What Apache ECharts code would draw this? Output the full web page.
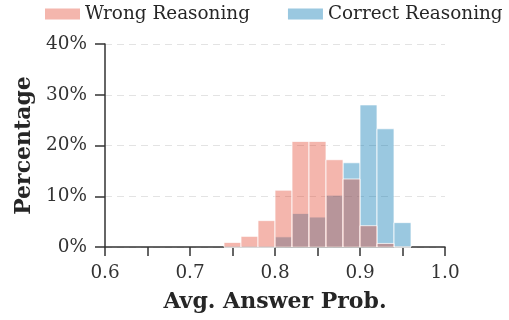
<!DOCTYPE html>
<html>
<head>
<meta charset="utf-8">
<script src="https://cdn.jsdelivr.net/npm/echarts@6/dist/echarts.min.js"></script>
<style>
  html, body { margin: 0; padding: 0; background: #fff; }
  #chart { width: 509px; height: 320px; }
</style>
</head>
<body>
<div id="chart"></div>
<script>
// Histogram bins (left edges), width 0.02
const binStarts = [0.74, 0.76, 0.78, 0.80, 0.82, 0.84, 0.86, 0.88, 0.90, 0.92, 0.94];
const binWidth = 0.02;
// Percentage of samples per bin
const wrongPct   = [0.9, 2.1, 5.2, 11.2, 20.8, 20.8, 17.2, 13.4, 4.2, 0.7, 0.0];
const correctPct = [0.0, 0.0, 0.0, 2.0, 6.6, 5.9, 10.2, 16.6, 28.0, 23.3, 4.8];
const yTicks = [0, 10, 20, 30, 40];
const xTickLabels = ['0.6', '0.7', '0.8', '0.9', '1.0'];

const FONT = 'DejaVu Serif';
const RED = 'rgba(228,73,50,0.4)';
const BLUE = 'rgba(2,118,178,0.4)';

function histData(vals) {
  return binStarts.map((s, i) => [s, s + binWidth, vals[i]]);
}

function renderBin(params, api) {
  const p0 = api.coord([api.value(0), api.value(2)]);
  const p1 = api.coord([api.value(1), 0]);
  return {
    type: 'rect',
    shape: { x: p0[0], y: p0[1], width: p1[0] - p0[0], height: p1[1] - p0[1] },
    style: { fill: api.visual('color'), stroke: 'rgba(255,255,255,0.75)', lineWidth: 1 }
  };
}

const chart = echarts.init(document.getElementById('chart'), null, { renderer: 'canvas' });
chart.setOption({
  animation: false,
  textStyle: { fontFamily: FONT },
  legend: {
    data: ['Wrong Reasoning', 'Correct Reasoning'],
    top: 0,
    left: 40,
    width: 520,
    padding: 5,
    icon: 'rect',
    itemWidth: 35,
    itemHeight: 11,
    itemGap: 38,
    textStyle: { fontFamily: FONT, fontSize: 18.4, color: '#262626', padding: [0, 0, 0, 0] }
  },
  grid: { left: 105, right: 64, top: 44, bottom: 73 },
  xAxis: {
    type: 'value',
    min: 0.6, max: 1.0, interval: 0.05,
    name: 'Avg. Answer Prob.',
    nameLocation: 'middle',
    nameGap: 44,
    nameTextStyle: { fontFamily: FONT, fontSize: 22, fontWeight: 'bold', color: '#262626' },
    axisLine: { lineStyle: { color: '#333', width: 1.5 } },
    axisTick: { length: 9, lineStyle: { color: '#333', width: 1.5 } },
    axisLabel: {
      fontFamily: FONT, fontSize: 18.4, color: '#333', margin: 17,
      formatter: v => {
        const k = Math.round(v * 10);
        return Math.abs(v * 10 - k) < 1e-6 ? xTickLabels[k - 6] : '';
      }
    },
    splitLine: { show: false }
  },
  yAxis: {
    type: 'value',
    min: 0, max: 40, interval: 10,
    name: 'Percentage',
    nameLocation: 'middle',
    nameGap: 68,
    nameTextStyle: { fontFamily: FONT, fontSize: 22, fontWeight: 'bold', color: '#262626' },
    axisLine: { show: true, lineStyle: { color: '#333', width: 1.5 } },
    axisTick: { show: true, length: 10, lineStyle: { color: '#333', width: 1.5 } },
    axisLabel: {
      fontFamily: FONT, fontSize: 18.4, color: '#333', margin: 18,
      formatter: v => yTicks.includes(v) ? v + '%' : ''
    },
    splitLine: { show: true, lineStyle: { color: '#e3e3e3', type: [7, 5], width: 1.2 } }
  },
  series: [
    {
      name: 'Correct Reasoning',
      type: 'custom',
      renderItem: renderBin,
      itemStyle: { color: BLUE },
      encode: { x: [0, 1], y: 2 },
      data: histData(correctPct),
      z: 2
    },
    {
      name: 'Wrong Reasoning',
      type: 'custom',
      renderItem: renderBin,
      itemStyle: { color: RED },
      encode: { x: [0, 1], y: 2 },
      data: histData(wrongPct),
      z: 3
    }
  ]
});
</script>
</body>
</html>
